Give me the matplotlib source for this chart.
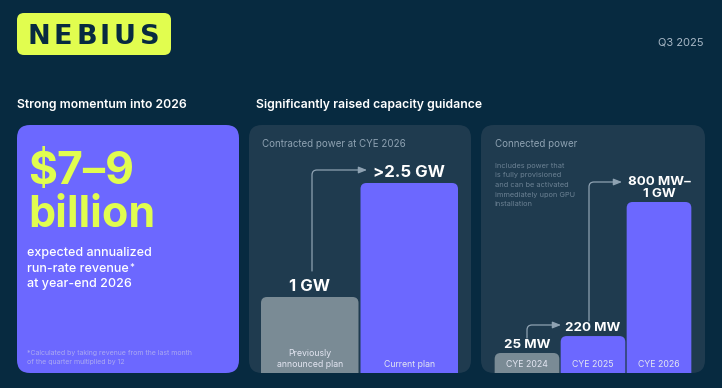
import matplotlib
matplotlib.use('Agg')
from matplotlib import pyplot as plt
from matplotlib.patches import FancyBboxPatch

plt.rcParams['font.family'] = ['Inter', 'DejaVu Sans']

BG = '#072a40'
PANEL = '#1f3b4f'
PURPLE = '#6c68ff'
GREY_BAR = '#7a8b95'
LIME = '#e1fd4f'
MUTED = '#8ea2b2'
W, H = 722, 388

# Contracted power at CYE 2026 (GW)
contracted_cats = ['Previously\nannounced plan', 'Current plan']
contracted_gw = [1.0, 2.5]
contracted_text = ['1 GW', '>2.5 GW']

# Connected power (source bars are not to scale, heights relative to CYE 2026)
connected_cats = ['CYE 2024', 'CYE 2025', 'CYE 2026']
connected_height = [0.117, 0.216, 1.0]
connected_text = ['25 MW', '220 MW', '800 MW–\n1 GW']

note_lines = ['Includes power that', 'is fully provisioned', 'and can be activated',
              'immediately upon GPU', 'installation']
logo_letters = ['N', 'E', 'B', 'I', 'U', 'S']
logo_x = [39, 62.5, 86.5, 105, 124, 149.5]


def card(ax, x0, y0, x1, y1, r, color):
    """
    Rounded rectangle in pixel coordinates.
    """
    p = FancyBboxPatch((x0 + r, y0 + r), x1 - x0 - 2 * r, y1 - y0 - 2 * r,
                       boxstyle=f'round,pad={r}', fc=color, ec='none', lw=0)
    ax.add_patch(p)


def px_axes(fig, x0, y0, x1, y1):
    ax = fig.add_axes([x0 / W, 1 - y1 / H, (x1 - x0) / W, (y1 - y0) / H])
    ax.axis('off')
    ax.patch.set_alpha(0)
    return ax


def rounded_bars(ax, heights, colors, width=0.98, r_px=6):
    """
    Bars with rounded tops, bottom corners get clipped by the axes.
    """
    x0, x1 = ax.get_xlim()
    y0, y1 = ax.get_ylim()
    bb = ax.get_position()
    ux = (x1 - x0) / (bb.width * W)
    uy = (y1 - y0) / (bb.height * H)
    for i, (h, col) in enumerate(zip(heights, colors)):
        p = FancyBboxPatch((i - width / 2, -3 * r_px * uy), width, h + 3 * r_px * uy,
                           boxstyle=f'round,pad=0,rounding_size={r_px * ux}',
                           mutation_aspect=uy / ux, fc=col, ec='none', lw=0)
        ax.add_patch(p)


def elbow(ax, start, end):
    ax.annotate('', xy=end, xytext=start,
                arrowprops=dict(arrowstyle='-|>,head_length=0.5,head_width=0.2',
                                connectionstyle='angle,angleA=90,angleB=0,rad=5',
                                color=MUTED, lw=0.9, shrinkA=0, shrinkB=0,
                                mutation_scale=10))


fig = plt.figure(figsize=(W / 100, H / 100), dpi=100)
fig.patch.set_facecolor(BG)
ax = fig.add_axes([0, 0, 1, 1])
ax.set_xlim(0, W)
ax.set_ylim(H, 0)
ax.axis('off')

# Logo + header
card(ax, 17, 13, 171, 55, 7, LIME)
for letter, lx in zip(logo_letters, logo_x):
    ax.text(lx, 44.5, letter, ha='center', va='baseline', fontsize=19.5,
            fontweight='bold', color=BG, family='DejaVu Sans')
ax.text(703, 45, 'Q3 2025', ha='right', va='baseline', fontsize=8, color='#a7b7c5')

ax.text(17, 108, 'Strong momentum into 2026', fontsize=8.8, fontweight='semibold',
        color='white', va='baseline')
ax.text(256, 108, 'Significantly raised capacity guidance', fontsize=8.8,
        fontweight='semibold', color='white', va='baseline')

# Left card
card(ax, 17, 125, 239, 373, 13, PURPLE)
ax.text(28, 184, '$7–9', fontsize=32, fontweight='bold', color=LIME, va='baseline')
ax.text(28, 227, 'billion', fontsize=31, fontweight='bold', color=LIME, va='baseline')
ax.text(27, 256, 'expected annualized', fontsize=9, fontweight='medium',
        color='white', va='baseline')
t = ax.text(27, 272, 'run-rate revenue', fontsize=9, fontweight='medium',
            color='white', va='baseline')
ax.annotate('*', xy=(1, 1), xycoords=t, xytext=(0.8, 0), textcoords='offset points',
            fontsize=7, color='white', ha='left', va='top')
ax.text(27, 287, 'at year-end 2026', fontsize=9, fontweight='medium',
        color='white', va='baseline')
ax.text(27, 355, '*Calculated by taking revenue from the last month', fontsize=5,
        color='#aaa8f2', va='baseline')
ax.text(27, 364, 'of the quarter multiplied by 12', fontsize=5,
        color='#aaa8f2', va='baseline')

# Middle + right panels
card(ax, 249, 125, 471, 373, 13, PANEL)
card(ax, 481, 125, 705, 373, 13, PANEL)
ax.text(262, 147, 'Contracted power at CYE 2026', fontsize=7, color=MUTED, va='baseline')
ax.text(495, 147, 'Connected power', fontsize=7, color=MUTED, va='baseline')
for i, line in enumerate(note_lines):
    ax.text(495, 168 + i * 9.5, line, fontsize=5.3, color='#6b8193', va='baseline')

elbow(ax, (312, 271), (367, 170))
elbow(ax, (527, 338), (561, 325))
elbow(ax, (589, 321), (622, 182))

# Contracted power bars
bx = px_axes(fig, 260, 150, 459, 373)
bx.set_xlim(-0.5, 1.5)
bx.set_ylim(0, 223 / 76)
rounded_bars(bx, contracted_gw, [GREY_BAR, PURPLE])
for i, (v, txt) in enumerate(zip(contracted_gw, contracted_text)):
    bx.annotate(txt, (i, v), xytext=(0, 4.5), textcoords='offset points',
                ha='center', va='baseline', fontsize=12, fontweight='bold', color='white')
    bx.annotate(contracted_cats[i], (i, 0), xytext=(0, 4.5), textcoords='offset points',
                ha='center', va='baseline', fontsize=6.3, color='#e3e6f2',
                linespacing=1.25, multialignment='center')

# Connected power bars
cx = px_axes(fig, 494, 150, 692, 373)
cx.set_xlim(-0.5, 2.5)
cx.set_ylim(0, 223 / 171)
rounded_bars(cx, connected_height, [GREY_BAR, PURPLE, PURPLE])
for i, (v, txt) in enumerate(zip(connected_height, connected_text)):
    cx.annotate(txt, (i, v), xytext=(0, 3.5), textcoords='offset points',
                ha='center', va='baseline', fontsize=9.6, fontweight='bold', color='white',
                linespacing=1.0, multialignment='center')
    cx.annotate(connected_cats[i], (i, 0), xytext=(0, 4.5), textcoords='offset points',
                ha='center', va='baseline', fontsize=6.3, color='#e3e6f2')

fig.savefig('out.png', dpi=100, facecolor=BG)
